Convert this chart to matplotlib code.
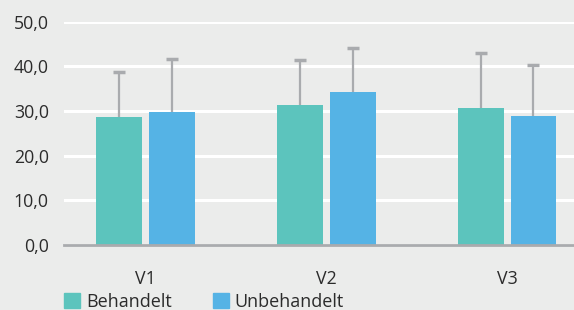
import matplotlib.pyplot as plt
import numpy as np
from matplotlib.ticker import FuncFormatter
from matplotlib.patches import Patch

# data
categories = ['V1', 'V2', 'V3']
behandelt = [28.6, 31.3, 30.6]
behandelt_err = [10.2, 10.2, 12.5]
unbehandelt = [29.8, 34.2, 28.9]
unbehandelt_err = [11.8, 9.8, 11.4]
series_names = ['Behandelt', 'Unbehandelt']
yticks = [0, 10, 20, 30, 40, 50]

teal = '#5cc4bd'
blue = '#55b3e5'
bg = '#ebeceb'
grey = '#a9abae'
txt = '#2b2b2b'

plt.rcParams['font.family'] = ['Open Sans', 'DejaVu Sans']

fig = plt.figure(figsize=(5.74, 3.10), dpi=100, facecolor=bg)
ax = fig.add_axes([64 / 574, 65 / 310, 1 - 64 / 574, (245 - 21.7) / 310])
ax.set_facecolor(bg)

x = np.arange(len(categories))
w = 0.254
off = 0.146
ax.bar(x - off, behandelt, w, color=teal, zorder=3)
ax.bar(x + off, unbehandelt, w, color=blue, zorder=3)

# only the upper half of the error bars, with a cap on top
for xs, vals, errs in [(x - off, behandelt, behandelt_err), (x + off, unbehandelt, unbehandelt_err)]:
    tops = np.array(vals) + np.array(errs)
    ax.vlines(xs, vals, tops, color=grey, linewidth=1.6, zorder=2)
    ax.plot(xs, tops, ls='none', marker='_', markersize=8, mew=2.5, color=grey, zorder=2)

ax.set_xlim(-0.45, 2.37)
ax.set_ylim(0, 50)
ax.set_yticks(yticks)
ax.yaxis.set_major_formatter(FuncFormatter(lambda v, p: f'{v:.1f}'.replace('.', ',')))
ax.set_xticks(x)
ax.set_xticklabels(categories)
ax.tick_params(axis='y', length=0, pad=11, labelsize=12.8, labelcolor=txt)
ax.tick_params(axis='x', length=0, pad=18, labelsize=12.8, labelcolor=txt)

ax.grid(axis='y', color='white', linewidth=2.2, zorder=0)
ax.set_axisbelow(True)
for s in ['top', 'right', 'left']:
    ax.spines[s].set_visible(False)
ax.spines['bottom'].set_color(grey)
ax.spines['bottom'].set_linewidth(2)
ax.spines['bottom'].set_zorder(4)

handles = [Patch(color=teal), Patch(color=blue)]
fig.legend(handles, series_names, loc='lower left', bbox_to_anchor=(48 / 574, -0.055),
           ncol=2, frameon=False, fontsize=13, handlelength=0.85, handleheight=0.85,
           handletextpad=0.35, columnspacing=2.3, labelcolor=txt)

fig.savefig('out.png', dpi=100, facecolor=bg)
